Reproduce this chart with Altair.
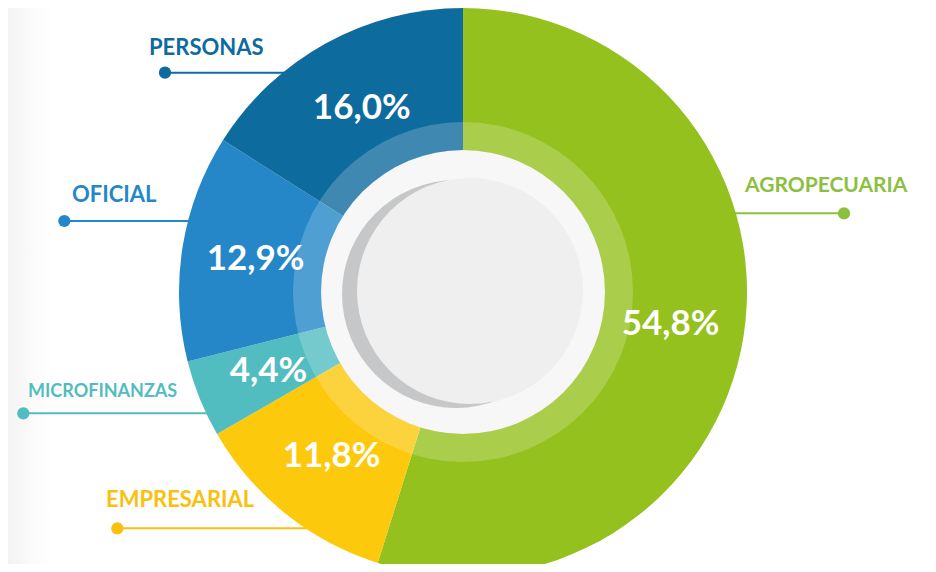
import math
import altair as alt
import pandas as pd

# ---- data ----
categories = ["AGROPECUARIA", "EMPRESARIAL", "MICROFINANZAS", "OFICIAL", "PERSONAS"]
values = [54.8, 11.8, 4.4, 12.9, 16.0]
slice_colors = ["#95C11F", "#FCC90D", "#52BDC0", "#2587C8", "#0E6B9E"]
label_colors = ["#8CC03F", "#F9C10E", "#52BDC0", "#2587C8", "#0E6B9E"]

# ---- layout (chart pixel coordinates) ----
W, H = 920, 556
CX, CY = 455, 284
R_OUT = 284
lab_x = [737, 98, 20, 64, 141]
lab_y = [184.3, 498.7, 388.7, 194.3, 47]
lab_size = [21, 22, 18, 22, 22]
dot_x = [836, 109.3, 15.3, 56.3, 157]
dot_y = [205.3, 520.3, 405.3, 213, 64.7]
line_end_x = [700, 330, 230, 220, 300]

pie_df = pd.DataFrame({
    "cat": categories,
    "v": values,
    "idx": list(range(len(categories))),
})

ann_df = pd.DataFrame({
    "cat": categories,
    "lx": lab_x, "ly": lab_y, "fs": lab_size,
    "dx": dot_x, "dy": dot_y, "ex": line_end_x,
    "col": label_colors,
})

one = pd.DataFrame({"a": [0]})

color_scale = alt.Scale(domain=categories, range=slice_colors)

bg = alt.Chart(one).mark_rect(
    color=alt.Gradient(
        gradient="linear",
        stops=[alt.GradientStop(color="#F3F3F3", offset=0),
               alt.GradientStop(color="#FAFAFA", offset=0.5),
               alt.GradientStop(color="#FFFFFF", offset=1)],
        x1=0, x2=1, y1=0, y2=0,
    )
).encode(x=alt.value(0), x2=alt.value(45), y=alt.value(0), y2=alt.value(H))

lines = alt.Chart(ann_df).mark_rule(strokeWidth=2).encode(
    x=alt.X("dx:Q", scale=None), x2="ex:Q",
    y=alt.Y("dy:Q", scale=None),
    color=alt.Color("col:N", scale=None),
)
dots = alt.Chart(ann_df).mark_circle(size=150, opacity=1).encode(
    x=alt.X("dx:Q", scale=None), y=alt.Y("dy:Q", scale=None),
    color=alt.Color("col:N", scale=None),
)
labels = alt.Chart(ann_df).mark_text(
    align="left", baseline="alphabetic", font="Lato", fontWeight="bold"
).encode(
    x=alt.X("lx:Q", scale=None), y=alt.Y("ly:Q", scale=None),
    text="cat:N", size=alt.Size("fs:Q", scale=None),
    color=alt.Color("col:N", scale=None),
)

pie = alt.Chart(pie_df).mark_arc(outerRadius=R_OUT, innerRadius=0, stroke=None).encode(
    theta=alt.Theta("v:Q", stack=True),
    color=alt.Color("cat:N", scale=color_scale, legend=None),
    order=alt.Order("idx:Q"),
    x=alt.value(CX), y=alt.value(CY),
)

ring = alt.Chart(one).mark_arc(
    innerRadius=142, outerRadius=170, theta=0, theta2=2 * math.pi,
    color="#FFFFFF", opacity=0.2,
).encode(x=alt.value(CX), y=alt.value(CY))

white = alt.Chart(one).mark_arc(
    innerRadius=0, outerRadius=142, theta=0, theta2=2 * math.pi, color="#F7F7F7",
).encode(x=alt.value(CX), y=alt.value(CY))

shadow = alt.Chart(one).mark_arc(
    innerRadius=0, outerRadius=114, theta=0, theta2=2 * math.pi, color="#C6C7C9",
).encode(x=alt.value(CX - 7), y=alt.value(CY + 2))

inner = alt.Chart(one).mark_arc(
    innerRadius=0, outerRadius=113, theta=0, theta2=2 * math.pi, color="#EFEFEF",
).encode(x=alt.value(CX + 7), y=alt.value(CY - 1))

pct = alt.Chart(pie_df).transform_calculate(
    lbl="replace(format(datum.v, '.1f'), '.', ',') + '%'"
).mark_text(
    radius=210, font="Lato", fontWeight="bold", fontSize=35, color="#FFFFFF",
).encode(
    theta=alt.Theta("v:Q", stack=True),
    order=alt.Order("idx:Q"),
    text="lbl:N",
    x=alt.value(CX), y=alt.value(CY),
)

chart = alt.layer(bg, lines, dots, labels, pie, ring, white, shadow, inner, pct).properties(
    width=W, height=H, padding=0,
    autosize=alt.AutoSizeParams(type="none"),
).configure_view(strokeWidth=0)

chart.save("out.html", embed_options={"renderer": "svg", "actions": False})
